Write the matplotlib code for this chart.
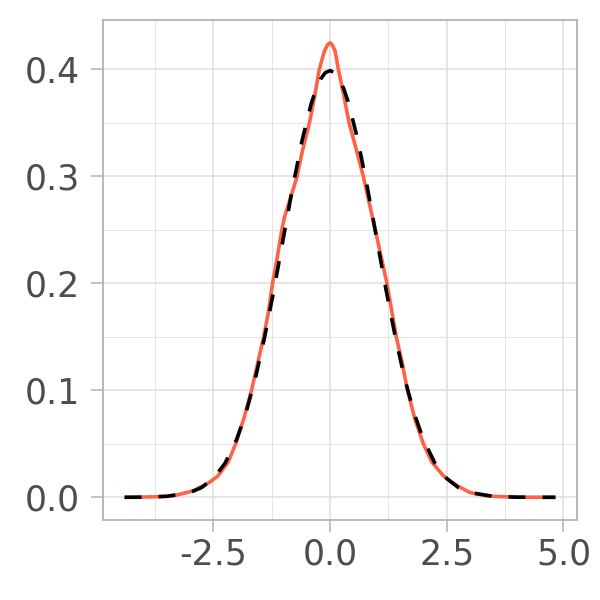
"""Density of a sample (red) against the standard normal curve (dashed)."""

import matplotlib

matplotlib.use("Agg")

import matplotlib.pyplot as plt

plt.rcParams["axes.unicode_minus"] = False

# sample density
kde_x = [-4.40, -4.00, -3.65, -3.36, -2.93, -2.58, -2.40, -2.18, -2.02, -1.85,
         -1.68, -1.54, -1.42, -1.32, -1.23, -1.13, -1.04, -0.98, -0.91, -0.71,
         -0.59, -0.44, -0.32, -0.23, -0.12, -0.06, 0.00, 0.05, 0.11, 0.18,
         0.29, 0.41, 0.57, 0.72, 0.77, 0.97, 1.22, 1.42, 1.54, 1.66,
         1.82, 2.00, 2.18, 2.43, 2.72, 3.00, 3.36, 3.65, 4.20, 4.83]
kde_y = [0.0000, 0.0002, 0.0006, 0.0013, 0.0060, 0.0140, 0.0200, 0.0330, 0.0500, 0.0730,
         0.1000, 0.1270, 0.1500, 0.1730, 0.2000, 0.2240, 0.2480, 0.2610, 0.2710, 0.2990,
         0.3240, 0.3500, 0.3770, 0.4000, 0.4170, 0.4225, 0.4250, 0.4230, 0.4170, 0.4000,
         0.3770, 0.3500, 0.3240, 0.2990, 0.2890, 0.2500, 0.2000, 0.1500, 0.1270, 0.1000,
         0.0730, 0.0500, 0.0330, 0.0200, 0.0110, 0.0044, 0.0013, 0.0006, 0.0001, 0.0000]

# reference normal curve
norm_x = [-4.40, -4.00, -3.50, -3.00, -2.75, -2.50, -2.25, -2.00, -1.80, -1.60,
          -1.40, -1.20, -1.00, -0.80, -0.60, -0.40, -0.30, -0.20, -0.10, 0.00,
          0.10, 0.20, 0.30, 0.40, 0.60, 0.80, 1.00, 1.20, 1.40, 1.60,
          1.80, 2.00, 2.25, 2.50, 2.75, 3.00, 3.50, 4.00, 4.40, 4.83]
norm_y = [0.0000, 0.0001, 0.0009, 0.0044, 0.0091, 0.0175, 0.0317, 0.0540, 0.0790, 0.1109,
          0.1497, 0.1942, 0.2420, 0.2897, 0.3332, 0.3683, 0.3814, 0.3910, 0.3970, 0.3989,
          0.3970, 0.3910, 0.3814, 0.3683, 0.3332, 0.2897, 0.2420, 0.1942, 0.1497, 0.1109,
          0.0790, 0.0540, 0.0317, 0.0175, 0.0091, 0.0044, 0.0009, 0.0001, 0.0000, 0.0000]

x_ticks = [-2.5, 0.0, 2.5, 5.0]
x_labels = ["-2.5", "0.0", "2.5", "5.0"]
x_minor = [-3.75, -1.25, 1.25, 3.75]
y_ticks = [0.0, 0.1, 0.2, 0.3, 0.4]
y_labels = ["0.0", "0.1", "0.2", "0.3", "0.4"]
y_minor = [0.05, 0.15, 0.25, 0.35]

BORDER = "#B3B3B3"
GRID = "#DEDEDE"
TEXT = "#4D4D4D"

fig = plt.figure(figsize=(6, 6), dpi=100, facecolor="white")
ax = fig.add_axes([0.1717, 0.1333, 0.79, 0.8334])

ax.plot(kde_x, kde_y, color="#FF6347", linewidth=2.6, zorder=3,
        solid_joinstyle="round", solid_capstyle="butt")
ax.plot(norm_x, norm_y, color="black", linewidth=2.6, zorder=4,
        linestyle=(0, (4.7, 4.7)), dash_capstyle="butt")

# ggplot-style 5% expansion
xr = max(kde_x) - min(kde_x)
ax.set_xlim(min(kde_x) - 0.05 * xr, max(kde_x) + 0.05 * xr)
yr = max(kde_y)
ax.set_ylim(-0.05 * yr, yr * 1.05)

ax.set_xticks(x_ticks)
ax.set_xticklabels(x_labels)
ax.set_xticks(x_minor, minor=True)
ax.set_yticks(y_ticks)
ax.set_yticklabels(y_labels)
ax.set_yticks(y_minor, minor=True)

ax.grid(which="major", color=GRID, linewidth=1.1, zorder=0)
ax.grid(which="minor", color=GRID, linewidth=0.55, zorder=0)
ax.set_axisbelow(True)

for side in ax.spines.values():
    side.set_color(BORDER)
    side.set_linewidth(1.3)

ax.tick_params(which="major", length=8.5, width=1.1, color=BORDER,
               labelcolor=TEXT, labelsize=25)
ax.tick_params(axis="x", which="major", pad=4)
ax.tick_params(axis="y", which="major", pad=8)
ax.tick_params(which="minor", length=0)

fig.savefig("out.png", dpi=100, facecolor="white")
